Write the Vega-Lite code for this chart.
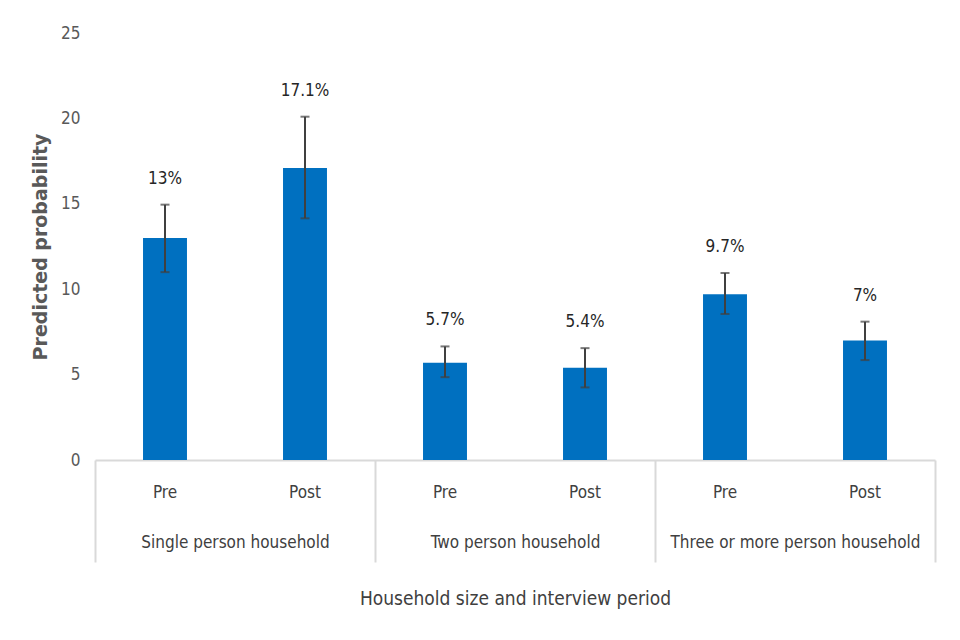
{
  "$schema": "https://vega.github.io/schema/vega-lite/v6.json",
  "width": 840,
  "height": 427,
  "autosize": {"type": "none"},
  "padding": {"left": 95, "top": 33, "right": 25, "bottom": 180},
  "background": "white",
  "config": {
    "font": "DejaVu Sans Condensed, Liberation Sans",
    "view": {"stroke": null}
  },
  "data": {
    "values": [
      {"key": "Single|Pre", "group": "Single person household", "period": "Pre", "value": 13.0, "lo": 11.0, "hi": 14.95, "label": "13%"},
      {"key": "Single|Post", "group": "Single person household", "period": "Post", "value": 17.1, "lo": 14.15, "hi": 20.1, "label": "17.1%"},
      {"key": "Two|Pre", "group": "Two person household", "period": "Pre", "value": 5.7, "lo": 4.85, "hi": 6.65, "label": "5.7%"},
      {"key": "Two|Post", "group": "Two person household", "period": "Post", "value": 5.4, "lo": 4.25, "hi": 6.55, "label": "5.4%"},
      {"key": "Three|Pre", "group": "Three or more person household", "period": "Pre", "value": 9.7, "lo": 8.55, "hi": 10.95, "label": "9.7%"},
      {"key": "Three|Post", "group": "Three or more person household", "period": "Post", "value": 7.0, "lo": 5.85, "hi": 8.1, "label": "7%"}
    ]
  },
  "layer": [
    {
      "encoding": {
        "x": {
          "field": "key",
          "type": "nominal",
          "sort": null,
          "scale": {"domain": ["Single|Pre", "Single|Post", "Two|Pre", "Two|Post", "Three|Pre", "Three|Post"], "paddingInner": 0.686, "paddingOuter": 0.343},
          "axis": {
            "orient": "bottom",
            "title": null,
            "labelExpr": "split(datum.label, '|')[1]",
            "labelAngle": 0,
            "labelFontSize": 17,
            "labelColor": "#404040",
            "labelPadding": 24,
            "ticks": false,
            "domain": true,
            "domainColor": "#d9d9d9",
            "domainWidth": 2
          }
        }
      },
      "layer": [
        {
          "mark": {"type": "bar", "color": "#0070C0"},
          "encoding": {
            "y": {
              "field": "value",
              "type": "quantitative",
              "scale": {"domain": [0, 25], "nice": false},
              "axis": {
                "title": "Predicted probability",
                "titleFontSize": 19,
                "titleFontWeight": "bold",
                "titleFont": "DejaVu Sans",
                "titleColor": "#595959",
                "titlePadding": 10,
                "values": [0, 5, 10, 15, 20, 25],
                "grid": false,
                "domain": false,
                "ticks": false,
                "labelFontSize": 17,
                "labelColor": "#595959",
                "labelPadding": 15
              }
            }
          }
        },
        {
          "mark": {"type": "rule", "color": "#404040", "strokeWidth": 2},
          "encoding": {
            "y": {"field": "lo", "type": "quantitative"},
            "y2": {"field": "hi"}
          }
        },
        {
          "mark": {"type": "tick", "color": "#404040", "size": 9, "thickness": 2, "orient": "horizontal"},
          "encoding": {"y": {"field": "hi", "type": "quantitative"}}
        },
        {
          "mark": {"type": "tick", "color": "#404040", "size": 9, "thickness": 2, "orient": "horizontal"},
          "encoding": {"y": {"field": "lo", "type": "quantitative"}}
        },
        {
          "mark": {"type": "text", "fontSize": 17, "color": "#262626", "baseline": "middle", "dy": -26},
          "encoding": {
            "y": {"field": "hi", "type": "quantitative"},
            "text": {"field": "label", "type": "nominal"}
          }
        }
      ]
    },
    {
      "mark": {"type": "rule", "opacity": 0},
      "encoding": {
        "x": {
          "field": "group",
          "type": "nominal",
          "sort": null,
          "scale": {"domain": ["Single person household", "Two person household", "Three or more person household"], "paddingInner": 0, "paddingOuter": 0},
          "axis": {
            "orient": "bottom",
            "title": "Household size and interview period",
            "titleFontSize": 19,
            "titleFontWeight": "normal",
            "titleColor": "#404040",
            "titlePadding": 26,
            "labelAngle": 0,
            "labelFontSize": 17,
            "labelLimit": 0,
            "labelColor": "#404040",
            "labelPadding": -28,
            "ticks": true,
            "tickBand": "extent",
            "tickSize": 102,
            "tickColor": "#d9d9d9",
            "tickWidth": 2,
            "domain": false
          }
        }
      }
    }
  ],
  "resolve": {"scale": {"x": "independent"}, "axis": {"x": "independent"}}
}
